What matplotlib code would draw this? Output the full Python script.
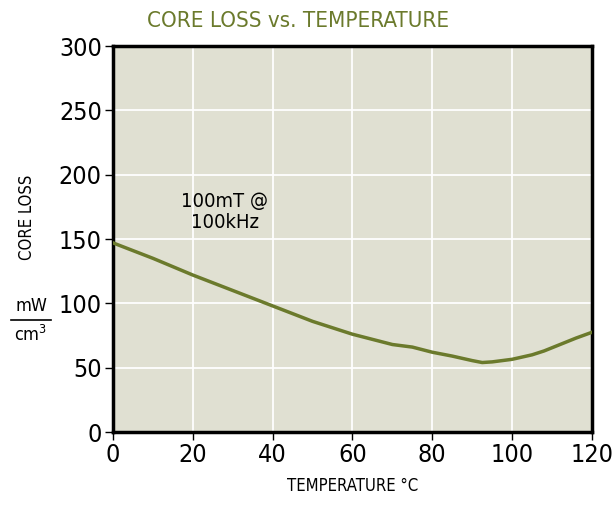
import matplotlib
matplotlib.use("Agg")
import matplotlib.pyplot as plt
from matplotlib.lines import Line2D

# temperature (°C) vs core loss (mW/cm3)
temperature = [0, 10, 20, 30, 40, 50, 55, 60, 65, 70, 75, 80, 85, 90, 92.5, 95, 100, 105, 108, 112, 116, 120]
core_loss = [147, 135, 122, 110, 98, 86, 81, 76, 72, 68, 66, 62, 59, 55.5, 54, 54.5, 56.5, 60, 63, 68, 73, 77.5]

x_ticks = [0, 20, 40, 60, 80, 100, 120]
y_ticks = [0, 50, 100, 150, 200, 250, 300]

OLIVE = "#6b7a2c"
plt.rcParams["font.family"] = ["DejaVu Sans"]
plt.rcParams["font.stretch"] = "condensed"

fig = plt.figure(figsize=(6.16, 5.08), dpi=100)
ax = fig.add_axes([0.1834, 0.1496, 0.7776, 0.7598])
ax.set_facecolor("#e0e0d2")

ax.plot(temperature, core_loss, color=OLIVE, lw=2.5, zorder=3)

ax.set_xlim(0, 120)
ax.set_ylim(0, 300)
ax.set_xticks(x_ticks)
ax.set_yticks(y_ticks)
ax.grid(True, color="white", lw=1.3)
ax.set_axisbelow(True)
for s in ax.spines.values():
    s.set_linewidth(2.5)
    s.set_color("black")
ax.tick_params(direction="out", length=6, width=1, labelsize=18, pad=2)

fig.text(298 / 616, 1 - 21 / 508, "CORE LOSS vs. TEMPERATURE", color=OLIVE, fontsize=16,
         ha="center", va="center")
ax.set_xlabel("TEMPERATURE °C", fontsize=12, labelpad=7)

ax.text(28, 171, "100mT @\n100kHz", ha="center", va="center", fontsize=14.5, linespacing=1.15)

# y-axis label with unit fraction
fig.text(27 / 616, 1 - 217 / 508, "CORE LOSS", rotation=90, ha="center", va="center", fontsize=12)
fig.text(31 / 616, 1 - 306 / 508, "mW", ha="center", va="center", fontsize=13)
fig.text(31 / 616, 1 - 335 / 508, "cm$^3$", ha="center", va="center", fontsize=13)
fig.add_artist(Line2D([11 / 616, 51 / 616], [1 - 320 / 508, 1 - 320 / 508], color="black", lw=1.2))

fig.savefig("out.png", dpi=100)
